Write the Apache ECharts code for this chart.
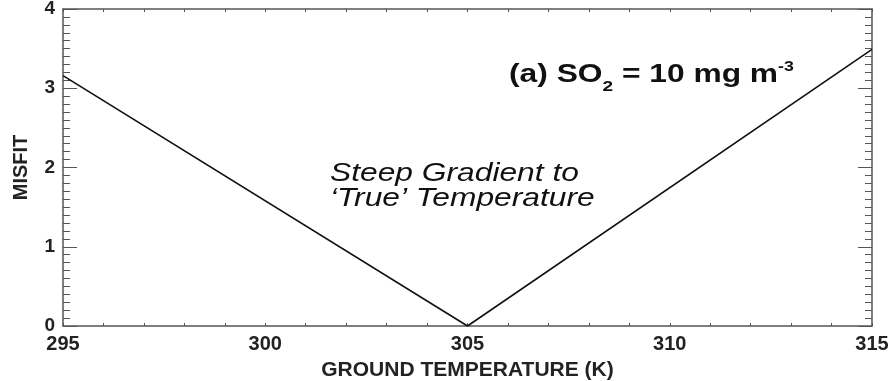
<!DOCTYPE html>
<html><head><meta charset="utf-8">
<script src="https://cdn.jsdelivr.net/npm/echarts@6/dist/echarts.min.js"></script>
<style>html,body{margin:0;padding:0;background:#fff}#c{width:891px;height:381px}</style>
</head><body><div id="c"></div>
<script>
const temperature = [295, 305, 315];
const misfit = [3.16, 0.0, 3.49];
const xTicks = [295, 300, 305, 310, 315];
const yTicks = [0, 1, 2, 3, 4];

const chart = echarts.init(document.getElementById('c'));
const axisCol = '#555';
const FF = '"Liberation Sans", Arial, sans-serif';
const labelFont = {fontFamily: FF, fontWeight: 'bold', fontSize: 20, color: '#222'};
function xAx(pos, labels) {
  return {
    type: 'value', position: pos, min: xTicks[0], max: xTicks[xTicks.length-1], interval: 5,
    axisLine: {show: true, onZero: false, lineStyle: {color: axisCol, width: 1.5}},
    axisTick: {show: true, inside: true, length: 3, lineStyle: {color: axisCol}},
    minorTick: {show: true, splitNumber: 5, length: 3, lineStyle: {color: axisCol}},
    splitLine: {show: false},
    axisLabel: Object.assign({show: labels, margin: 8}, labelFont),
    name: labels ? 'GROUND TEMPERATURE (K)' : '', nameLocation: 'middle', nameGap: 34,
    nameTextStyle: Object.assign({}, labelFont, {fontSize: 21})
  };
}
function yAx(pos, labels) {
  return {
    type: 'value', position: pos, min: yTicks[0], max: yTicks[yTicks.length-1], interval: 1,
    axisLine: {show: true, onZero: false, lineStyle: {color: axisCol, width: 1.5}},
    axisTick: {show: true, inside: true, length: 14, lineStyle: {color: axisCol}},
    minorTick: {show: true, splitNumber: 10, length: 7, lineStyle: {color: axisCol}},
    splitLine: {show: false},
    axisLabel: Object.assign({show: labels, margin: 8}, labelFont, {fontSize: 19}),
    name: labels ? 'MISFIT' : '', nameLocation: 'middle', nameGap: 32, nameRotate: 90,
    nameTextStyle: Object.assign({}, labelFont, {fontSize: 20})
  };
}
chart.setOption({
  animation: false,
  grid: {left: 63, right: 19, top: 9, bottom: 55, outerBoundsMode: 'none', containLabel: false},
  xAxis: [xAx('bottom', true), xAx('top', false)],
  yAxis: [yAx('left', true), yAx('right', false)],
  series: [{
    type: 'line', xAxisIndex: 0, yAxisIndex: 0, symbol: 'none',
    lineStyle: {color: '#111', width: 1.6},
    data: temperature.map((t, i) => [t, misfit[i]])
  }],
  graphic: [
    {type: 'text', left: 509, top: 60, scaleX: 1.27, originX: 0, style: {
      text: '{a|(a) SO}{s|2}{a| = 10 mg m}{p|-3}',
      rich: {
        a: {fontFamily: FF, fontWeight: 'bold', fontSize: 25, fill: '#111', verticalAlign: 'bottom', lineHeight: 30},
        s: {fontFamily: FF, fontWeight: 'bold', fontSize: 15, fill: '#111', padding: [0,0,-6,0], verticalAlign: 'bottom', lineHeight: 30},
        p: {fontFamily: FF, fontWeight: 'bold', fontSize: 14, fill: '#111', padding: [0,0,14,0], verticalAlign: 'bottom', lineHeight: 30}
      }
    }},
    {type: 'text', left: 330, top: 162, scaleX: 1.27, originX: 0, style: {
      text: 'Steep Gradient to\n\u2018True\u2019 Temperature',
      font: 'italic 25px ' + FF, fill: '#111', lineHeight: 25
    }}
  ]
});
</script></body></html>
